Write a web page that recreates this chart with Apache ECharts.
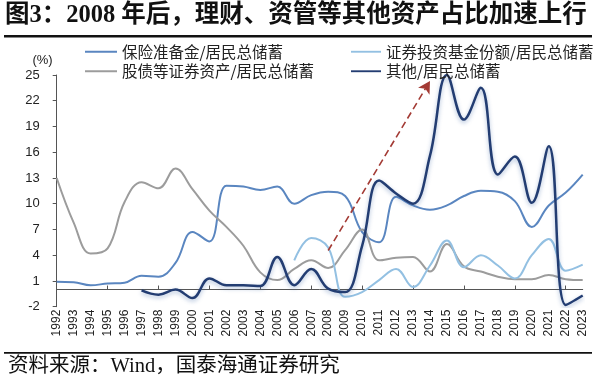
<!DOCTYPE html>
<html><head><meta charset="utf-8">
<script src="https://cdn.jsdelivr.net/npm/echarts@6/dist/echarts.min.js"></script>
<style>html,body{margin:0;padding:0;background:#fff}#c{width:596px;height:384px}</style>
</head><body><div id="c"></div>
<script>
const years = ['1992','1993','1994','1995','1996','1997','1998','1999','2000','2001','2002','2003','2004','2005','2006','2007','2008','2009','2010','2011','2012','2013','2014','2015','2016','2017','2018','2019','2020','2021','2022','2023'];
const insurance = [0.9,0.85,0.5,0.7,0.8,1.6,1.5,3.1,6.7,5.6,12.1,12.0,11.6,12.0,10.0,11.0,11.4,10.9,6.7,5.5,10.8,9.8,9.3,9.8,10.9,11.5,11.4,10.3,7.3,9.8,11.3,13.4];
const securities = [13.0,7.8,4.2,4.8,10.2,12.5,11.8,14.1,11.7,9.2,7.3,5.1,2.0,1.1,2.4,3.4,2.5,4.6,7.0,3.4,3.7,3.8,2.1,5.3,2.7,2.1,1.5,1.2,1.2,1.7,1.2,1.1];
const funds = [null,null,null,null,null,null,null,null,null,null,null,null,null,null,3.4,6.0,4.9,-0.85,-0.3,1.1,2.4,0.3,2.8,5.7,2.6,4.0,2.8,1.3,4.0,5.9,2.2,2.9];
const others = [null,null,null,null,null,-0.1,-0.6,0.0,-1.0,1.3,0.5,0.5,0.4,3.8,0.5,2.4,0.1,-0.3,5.1,12.7,11.2,10.0,15.6,25.0,19.8,23.5,13.4,15.5,10.1,16.7,-1.8,-0.7];
const seriesNames = ['保险准备金/居民总储蓄','股债等证券资产/居民总储蓄','证券投资基金份额/居民总储蓄','其他/居民总储蓄'];
const yTicks = {min:-2, max:25, interval:3};
const arrowFrom = [16.1, 4.55];
const arrowTo = [21.6, 24.3];
const titleText = '图3：2008 年后，理财、资管等其他资产占比加速上行';
const sourceText = '资料来源：Wind，国泰海通证券研究';

const chart = echarts.init(document.getElementById('c'), null, {renderer:'canvas'});
const serifFont = '"Liberation Serif","DejaVu Serif","Noto Sans CJK SC",serif';
const cjk = '"Noto Sans CJK SC","Liberation Sans",sans-serif';
const colors = ['#5a86c0','#9c9c9c','#93c0e2','#233d72'];

const lineSeries = (name, data, idx, extra) => Object.assign({
  name, type:'line', data, smooth:0.4, symbol:'none', connectNulls:false,
  xAxisIndex:0, yAxisIndex:0,
  lineStyle:{color:colors[idx], width:2}, itemStyle:{color:colors[idx]}
}, extra||{});

chart.setOption({
  animation:false,
  backgroundColor:'#fff',
  graphic:[
    {type:'text', left:5, top:3, style:{text:titleText, font:'bold 24.5px '+serifFont, fill:'#111'}},
    {type:'rect', shape:{x:4, y:35, width:588, height:2.5}, style:{fill:'#111'}},
    {type:'rect', shape:{x:4, y:352, width:588, height:1.8}, style:{fill:'#111'}},
    {type:'text', left:8, top:356, style:{text:sourceText, font:'20.5px '+serifFont, fill:'#111'}}
  ],
  legend:[
    {data:[seriesNames[0], seriesNames[1]], orient:'vertical', left:80, top:39, itemWidth:32, itemHeight:14, itemGap:4,
     icon:'path://M0,6 L32,6 L32,8 L0,8 Z', textStyle:{fontFamily:cjk, fontSize:15.5, color:'#222'}},
    {data:[seriesNames[2], seriesNames[3]], orient:'vertical', left:346, top:39, itemWidth:30, itemHeight:14, itemGap:4,
     icon:'path://M0,6 L32,6 L32,8 L0,8 Z', textStyle:{fontFamily:cjk, fontSize:15.5, color:'#222'}}
  ],
  grid:{left:56.7, right:13.3, top:75, bottom:77.3, containLabel:false},
  xAxis:[
    {type:'category', data:years, boundaryGap:false, position:'bottom',
     axisLine:{onZero:true, lineStyle:{color:'#555', width:1}},
     axisTick:{show:true, inside:true, length:4, alignWithLabel:true, lineStyle:{color:'#555'}},
     axisLabel:{show:false}, splitLine:{show:false}},
    {type:'category', data:years, boundaryGap:false, position:'bottom', gridIndex:0,
     axisLine:{show:false}, axisTick:{show:false},
     axisLabel:{show:true, rotate:90, interval:0, margin:3, fontFamily:'"Liberation Sans",Arial,sans-serif', fontSize:12, color:'#222'},
     splitLine:{show:false}}
  ],
  yAxis:{type:'value', min:yTicks.min, max:yTicks.max, interval:yTicks.interval,
    name:'(%)', nameLocation:'end', nameGap:8, nameTextStyle:{fontFamily:'"Liberation Sans",Arial,sans-serif', fontSize:13, color:'#222', align:'right', padding:[0,4,0,0]},
    axisLine:{show:true, lineStyle:{color:'#555'}},
    axisTick:{show:true, length:4, lineStyle:{color:'#555'}},
    axisLabel:{margin:17, fontFamily:'"Liberation Sans",Arial,sans-serif', fontSize:13, color:'#222'},
    splitLine:{show:false}},
  series:[
    lineSeries(seriesNames[0], insurance, 0),
    lineSeries(seriesNames[1], securities, 1),
    lineSeries(seriesNames[2], funds, 2),
    lineSeries(seriesNames[3], others, 3, {
      lineStyle:{color:colors[3], width:2.5, shadowColor:'rgba(70,110,170,0.45)', shadowBlur:4, shadowOffsetY:2},
      markLine:{silent:true, symbol:['none','arrow'], symbolSize:[10,12],
        label:{show:false},
        lineStyle:{type:[7,4], color:'#a33a34', width:1.6, shadowBlur:0},
        data:[[{coord:arrowFrom}, {coord:arrowTo}]]}
    })
  ]
});
</script></body></html>
